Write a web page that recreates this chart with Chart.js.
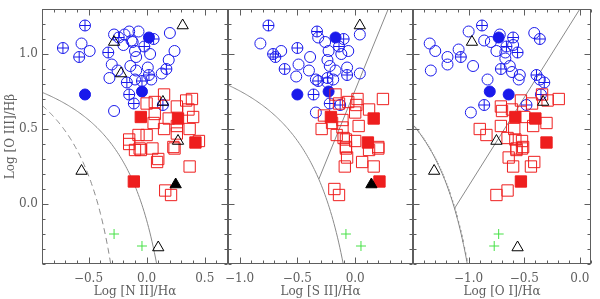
<!DOCTYPE html>
<html>
<head>
<meta charset="utf-8">
<script src="https://cdn.jsdelivr.net/npm/chart.js@4.4.1/dist/chart.umd.min.js"></script>
<style>
body { margin: 0; background: #fff; }
#caja { position: relative; width: 600px; height: 299px; }
canvas { position: absolute; left: 0; top: 0; }
</style>
</head>
<body>
<div id="caja">
<canvas id="panel_nii" width="600" height="299"></canvas>
<canvas id="panel_sii" width="600" height="299"></canvas>
<canvas id="panel_oi" width="600" height="299"></canvas>
</div>
<script>
// tick labels
var yTicks = [0.0, 0.5, 1.0];
var xTicks_nii = [-0.5, 0.0, 0.5];
var xTicks_sii = [-1.0, -0.5, 0.0];
var xTicks_oi = [-1.0, -0.5, 0.0];

// [N II] panel
var nii_circulos = [[-0.56,1.07],[-0.49,1.02],[-0.28,1.13],[-0.19,1.13],[-0.15,1.15],[-0.07,1.15],[-0.20,1.06],[-0.13,1.09],[-0.12,1.08],[0.20,1.14],[-0.10,1.02],[-0.09,0.98],[0.03,1.00],[-0.30,0.93],[-0.14,0.92],[0.01,0.91],[0.19,0.96],[0.24,1.02],[-0.25,0.89],[-0.09,0.89],[0.13,0.87],[-0.32,0.84],[-0.10,0.83],[0.04,0.83],[-0.28,0.62]];
var nii_circulos_cruz = [[-0.53,1.19],[-0.72,1.04],[-0.58,0.98],[-0.24,1.11],[-0.02,1.05],[0.06,1.10],[-0.33,1.01],[0.02,0.86],[0.17,0.90],[-0.17,0.81],[-0.04,0.82],[-0.15,0.73],[-0.11,0.67],[0.14,0.66]];
var nii_circulos_llenos = [[0.02,1.11],[-0.53,0.73],[-0.04,0.75]];
var nii_cuadrados = [[0.15,0.73],[0.07,0.68],[0.00,0.67],[0.34,0.69],[0.39,0.70],[0.26,0.65],[0.36,0.63],[0.07,0.60],[0.19,0.57],[0.40,0.58],[0.06,0.54],[0.26,0.52],[0.15,0.50],[0.37,0.50],[-0.15,0.43],[-0.07,0.46],[0.00,0.46],[0.26,0.47],[0.45,0.42],[-0.15,0.40],[-0.06,0.37],[0.05,0.37],[0.24,0.37],[-0.10,0.36],[-0.05,0.36],[0.23,0.38],[0.09,0.28],[0.10,0.30],[0.37,0.25],[0.16,0.09],[0.21,0.06]];
var nii_cuadrados_llenos = [[-0.05,0.58],[0.27,0.57],[0.42,0.41],[-0.11,0.15]];
var nii_triangulos = [[0.31,1.19],[-0.28,1.08],[-0.22,0.87],[0.14,0.68],[0.27,0.42],[-0.56,0.22],[0.10,-0.29]];
var nii_triangulos_llenos = [[0.25,0.13]];
var nii_cruces = [[-0.28,-0.20],[-0.04,-0.28]];

// [S II] panel
var sii_circulos = [[-0.82,1.07],[-0.64,1.02],[-0.39,0.98],[-0.49,0.93],[-0.51,0.85],[-0.40,0.89],[-0.32,1.11],[-0.26,1.08],[0.04,1.13],[-0.12,1.00],[-0.06,1.02],[-0.23,1.02],[-0.24,0.96],[-0.22,0.92],[-0.17,0.89],[-0.07,0.91],[0.04,0.87],[-0.34,0.83],[-0.24,0.81],[-0.19,0.83],[-0.34,0.61]];
var sii_circulos_cruz = [[-0.75,1.19],[-0.71,1.00],[-0.69,0.98],[-0.50,1.04],[-0.61,0.90],[-0.33,1.15],[-0.10,1.10],[-0.14,1.05],[-0.07,0.86],[-0.32,0.82],[-0.24,0.84],[-0.36,0.73],[-0.22,0.67],[-0.13,0.66]];
var sii_circulos_llenos = [[-0.17,1.11],[-0.50,0.73],[-0.23,0.75]];
var sii_cuadrados = [[-0.17,0.73],[0.02,0.70],[0.24,0.70],[-0.14,0.67],[-0.06,0.68],[0.01,0.66],[0.12,0.63],[-0.27,0.59],[0.00,0.61],[-0.20,0.54],[-0.11,0.56],[-0.29,0.50],[-0.11,0.51],[0.03,0.52],[-0.16,0.46],[-0.10,0.44],[-0.08,0.43],[0.00,0.42],[0.20,0.38],[-0.08,0.38],[0.12,0.36],[0.20,0.37],[-0.08,0.37],[-0.07,0.31],[0.06,0.28],[-0.09,0.25],[0.16,0.25],[-0.18,0.10],[-0.14,0.06]];
var sii_cuadrados_llenos = [[-0.21,0.58],[0.16,0.57],[0.11,0.41],[0.21,0.15]];
var sii_triangulos = [[0.04,1.19]];
var sii_triangulos_llenos = [[0.14,0.13]];
var sii_cruces = [[-0.08,-0.20],[0.05,-0.28]];

// [O I] panel
var oi_circulos = [[-1.00,1.15],[-0.72,1.13],[-0.41,1.14],[-0.86,1.09],[-0.80,1.08],[-1.35,1.07],[-1.30,1.02],[-1.09,1.03],[-1.19,0.98],[-1.19,0.93],[-0.96,0.92],[-1.34,0.89],[-0.75,1.02],[-0.60,1.06],[-0.67,1.01],[-0.67,0.97],[-0.63,0.92],[-0.61,0.88],[-0.54,0.86],[-0.55,0.83],[-0.83,0.83],[-0.36,0.83],[-0.98,0.61]];
var oi_circulos_cruz = [[-0.88,1.19],[-0.60,1.11],[-0.36,1.10],[-1.07,0.98],[-0.66,1.05],[-0.56,1.01],[-0.71,0.90],[-0.39,0.86],[-0.32,0.81],[-0.35,0.73],[-0.86,0.66],[-0.48,0.66]];
var oi_circulos_llenos = [[-0.73,1.11],[-0.81,0.75],[-0.64,0.73]];
var oi_cuadrados = [[-0.71,0.65],[-0.70,0.62],[-0.61,0.63],[-0.53,0.69],[-0.43,0.67],[-0.34,0.73],[-0.29,0.69],[-0.19,0.70],[-0.50,0.58],[-0.71,0.52],[-0.59,0.50],[-0.42,0.52],[-0.30,0.54],[-0.90,0.50],[-0.84,0.46],[-0.65,0.44],[-0.58,0.43],[-0.52,0.42],[-0.57,0.37],[-0.51,0.38],[-0.57,0.36],[-0.52,0.37],[-0.64,0.31],[-0.60,0.25],[-0.44,0.25],[-0.41,0.28],[-0.75,0.06],[-0.65,0.09]];
var oi_cuadrados_llenos = [[-0.58,0.58],[-0.40,0.57],[-0.30,0.41],[-0.53,0.15]];
var oi_triangulos = [[-0.97,1.08],[-0.33,0.68],[-0.75,0.42],[-1.31,0.22],[-0.56,-0.29]];
var oi_triangulos_llenos = [];
var oi_cruces = [[-0.73,-0.20],[-0.77,-0.28]];

// demarcation lines: y = a/(x-b)+c and y = m*x+n
var kewley_nii = [0.61, 0.47, 1.19];
var kauffmann_nii = [0.61, 0.05, 1.30];
var kewley_sii = [0.72, 0.32, 1.30];
var seyfert_sii = [1.89, 0.76];
var kewley_oi = [0.73, -0.59, 1.33];
var seyfert_oi = [1.18, 1.30];

var yMin = -0.4, yMax = 1.3;
var gris = '#5e5e5e';
var azul = 'rgb(25,25,235)';
var rojo = 'rgb(238,30,30)';
var verde = 'rgb(70,225,70)';

Chart.defaults.font.family = "'DejaVu Serif', serif";
Chart.defaults.font.size = 12;
Chart.defaults.color = gris;

function puntos(lista) {
    return lista.map(function (p) { return {x: p[0], y: p[1]}; });
}

function curva(coef, xmin) {
    var a = coef[0], b = coef[1], c = coef[2];
    var xfin = b + a / (yMin - c);
    var pts = [];
    for (var i = 0; i <= 100; i++) {
        var x = xmin + (xfin - xmin) * i / 100;
        pts.push({x: x, y: a / (x - b) + c});
    }
    return pts;
}

function recta(linea, coef) {
    var m = linea[0], n = linea[1], a = coef[0], b = coef[1], c = coef[2];
    var A = m, B = (n - c) - m * b, C = -(n - c) * b - a;
    var x0 = (-B - Math.sqrt(B * B - 4 * A * C)) / (2 * A);
    return [{x: x0, y: m * x0 + n}, {x: (yMax - n) / m, y: yMax}];
}

function etiqueta(v) {
    var s = Math.abs(v).toFixed(1);
    return v < -1e-9 ? '\u2212' + s : s;
}

var marco = {
    id: 'marco',
    afterDraw: function (chart) {
        var ctx = chart.ctx, a = chart.chartArea;
        var sx = chart.scales.x, sy = chart.scales.y;
        var l = Math.round(a.left) + 0.5, r = Math.round(a.right) - 0.5;
        var t = Math.round(a.top) + 0.5, b = Math.round(a.bottom) - 0.5;
        ctx.save();
        ctx.strokeStyle = gris;
        ctx.lineWidth = 1;
        ctx.strokeRect(l, t, r - l, b - t);
        ctx.beginPath();
        var v, px, len;
        for (v = Math.ceil(sx.min * 10 - 1e-6); v <= sx.max * 10 + 1e-6; v++) {
            px = Math.round(sx.getPixelForValue(v / 10)) + 0.5;
            len = (v % 5 === 0) ? 6 : 3;
            ctx.moveTo(px, b); ctx.lineTo(px, b - len);
            ctx.moveTo(px, t); ctx.lineTo(px, t + len);
        }
        for (v = Math.ceil(sy.min * 10 - 1e-6); v <= sy.max * 10 + 1e-6; v++) {
            px = Math.round(sy.getPixelForValue(v / 10)) + 0.5;
            len = (v % 5 === 0) ? 6 : 3;
            ctx.moveTo(l, px); ctx.lineTo(l + len, px);
            ctx.moveTo(r, px); ctx.lineTo(r - len, px);
        }
        ctx.stroke();
        ctx.restore();
    }
};

function marcas(lista, estilo, radio, color, relleno) {
    return {
        data: puntos(lista),
        pointStyle: estilo,
        pointRadius: radio,
        borderColor: color,
        backgroundColor: relleno ? color : 'rgba(0,0,0,0)',
        pointBorderWidth: 1,
        borderWidth: 1,
        showLine: false
    };
}

function linea(pts, dash) {
    return {
        data: pts,
        showLine: true,
        pointRadius: 0,
        borderColor: '#8a8a8a',
        borderWidth: 1,
        borderDash: dash || [],
        fill: false,
        tension: 0
    };
}

function crear_panel(id, xmin, xmax, xTicks, titulo, izq, der, datos, lineas, ejeY) {
    var sets = [
        marcas(datos.cruces, 'cross', 5, verde, false),
        marcas(datos.triangulos_llenos, 'triangle', 6.5, '#000', true),
        marcas(datos.triangulos, 'triangle', 6.5, '#000', false),
        marcas(datos.cuadrados_llenos, 'rect', 8, rojo, true),
        marcas(datos.cuadrados, 'rect', 8, rojo, false),
        marcas(datos.circulos_llenos, 'circle', 5.5, azul, true),
        marcas(datos.circulos_cruz, 'cross', 5.5, azul, false),
        marcas(datos.circulos_cruz, 'circle', 5.5, azul, false),
        marcas(datos.circulos, 'circle', 5.5, azul, false)
    ].concat(lineas);

    return new Chart(document.getElementById(id), {
        type: 'scatter',
        data: {datasets: sets},
        plugins: [marco],
        options: {
            responsive: false,
            animation: false,
            events: [],
            devicePixelRatio: 1,
            layout: {padding: {left: izq, right: der, top: 3, bottom: 0}},
            plugins: {legend: {display: false}, tooltip: {enabled: false}},
            scales: {
                x: {
                    type: 'linear', min: xmin, max: xmax,
                    afterBuildTicks: function (s) { s.ticks = xTicks.map(function (v) { return {value: v}; }); },
                    afterFit: function (s) {
                        s.height = 35;
                        s.paddingLeft = 0; s.paddingRight = 0; s.paddingTop = 0; s.paddingBottom = 0;
                    },
                    grid: {display: false, drawTicks: false},
                    border: {display: false},
                    ticks: {padding: 8, maxRotation: 0, callback: etiqueta},
                    title: {display: true, text: titulo, padding: {top: 0, bottom: 0}}
                },
                y: {
                    type: 'linear', min: yMin, max: yMax,
                    display: ejeY,
                    afterBuildTicks: function (s) { s.ticks = yTicks.map(function (v) { return {value: v}; }); },
                    afterFit: function (s) {
                        s.width = ejeY ? 42 : 0;
                        s.paddingLeft = 0; s.paddingRight = 0; s.paddingTop = 0; s.paddingBottom = 0;
                    },
                    grid: {display: false, drawTicks: false},
                    border: {display: false},
                    ticks: {padding: 4, callback: etiqueta},
                    title: {display: true, text: 'Log [O III]/H\u03b2', padding: {top: 4, bottom: 0}}
                }
            }
        }
    });
}

crear_panel('panel_nii', -0.9, 0.7, xTicks_nii, 'Log [N II]/H\u03b1', 0, 372, {
    circulos: nii_circulos, circulos_cruz: nii_circulos_cruz, circulos_llenos: nii_circulos_llenos,
    cuadrados: nii_cuadrados, cuadrados_llenos: nii_cuadrados_llenos,
    triangulos: nii_triangulos, triangulos_llenos: nii_triangulos_llenos, cruces: nii_cruces
}, [linea(curva(kewley_nii, -0.9)), linea(curva(kauffmann_nii, -0.9), [6, 4])], true);

crear_panel('panel_sii', -1.1, 0.5, xTicks_sii, 'Log [S II]/H\u03b1', 228, 187, {
    circulos: sii_circulos, circulos_cruz: sii_circulos_cruz, circulos_llenos: sii_circulos_llenos,
    cuadrados: sii_cuadrados, cuadrados_llenos: sii_cuadrados_llenos,
    triangulos: sii_triangulos, triangulos_llenos: sii_triangulos_llenos, cruces: sii_cruces
}, [linea(curva(kewley_sii, -1.1)), linea(recta(seyfert_sii, kewley_sii))], false);

crear_panel('panel_oi', -1.5, 0.1, xTicks_oi, 'Log [O I]/H\u03b1', 413, 2, {
    circulos: oi_circulos, circulos_cruz: oi_circulos_cruz, circulos_llenos: oi_circulos_llenos,
    cuadrados: oi_cuadrados, cuadrados_llenos: oi_cuadrados_llenos,
    triangulos: oi_triangulos, triangulos_llenos: oi_triangulos_llenos, cruces: oi_cruces
}, [linea(curva(kewley_oi, -1.5)), linea(recta(seyfert_oi, kewley_oi))], false);
</script>
</body>
</html>
